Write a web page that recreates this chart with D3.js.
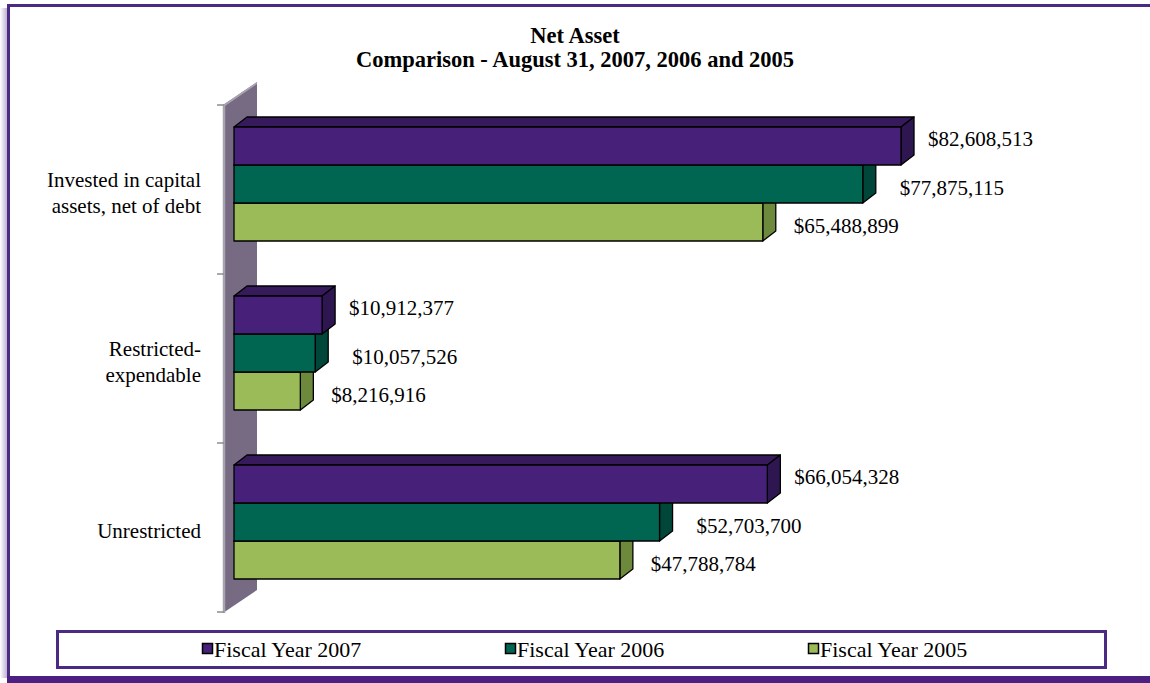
<!DOCTYPE html>
<html>
<head>
<meta charset="utf-8">
<script src="https://cdn.jsdelivr.net/npm/d3@7"></script>
<style>
  html, body { margin: 0; padding: 0; background: #fff; }
  svg { display: block; }
  text { font-family: "Liberation Serif", "Times New Roman", serif; fill: #000; }
</style>
</head>
<body>
<svg id="chart" width="1150" height="683"></svg>
<script>
// Net asset categories and values by fiscal year
const categories = [
  ["Invested in capital", "assets, net of debt"],
  ["Restricted-", "expendable"],
  ["Unrestricted"]
];
const seriesNames = ["Fiscal Year 2007", "Fiscal Year 2006", "Fiscal Year 2005"];
const fy2007 = [82608513, 10912377, 66054328];
const fy2006 = [77875115, 10057526, 52703700];
const fy2005 = [65488899, 8216916, 47788784];
const seriesValues = [fy2007, fy2006, fy2005];

const front = ["#47207a", "#006651", "#9bbb59"];
const topFace = ["#361a5c", "#004e3e", "#7d9a45"];
const sideFace = ["#2e1650", "#00473a", "#6d8a3c"];

const svg = d3.select("#chart");
const fmt = v => "$" + d3.format(",")(v);

// 3D depth of the bars
const dx = 13, dy = -10;

// Outer frame with a soft left shadow
const defs = svg.append("defs");
const grad = defs.append("linearGradient").attr("id", "shadow").attr("x1", 0).attr("x2", 1);
grad.append("stop").attr("offset", "0%").attr("stop-color", "#fff");
grad.append("stop").attr("offset", "100%").attr("stop-color", "#b6a6cc");
svg.append("rect").attr("x", 0).attr("y", 8).attr("width", 8).attr("height", 670).attr("fill", "url(#shadow)");
svg.append("path")
  .attr("d", "M1155,5.5 H8.5 V678")
  .attr("fill", "none").attr("stroke", "#4b2a84").attr("stroke-width", 3);
svg.append("rect").attr("x", 7).attr("y", 676).attr("width", 1150).attr("height", 7).attr("fill", "#4b2080");

// Title (two separate lines)
const titleLines = ["Net Asset", "Comparison - August 31, 2007, 2006 and 2005"];
svg.append("g").selectAll("text").data(titleLines).join("text")
  .attr("text-anchor", "middle")
  .attr("x", 575).attr("y", (d, i) => 43 + i * 24)
  .style("font-weight", "bold").style("font-size", "22.5px")
  .text(d => d);

// Scales
const y = d3.scaleBand().domain(d3.range(categories.length)).range([105, 612]);
const ySeries = d3.scaleBand().domain(d3.range(seriesNames.length)).range([22, 136]);
const x = d3.scaleLinear().domain([0, 90000000]).range([234, 960.7]);

// Back wall
svg.append("polygon")
  .attr("points", [[223, 105], [257, 82], [257, 590], [223, 613]].join(" "))
  .attr("fill", "#776b84");
svg.append("line").attr("x1", 224).attr("x2", 224).attr("y1", 105).attr("y2", 613)
  .attr("stroke", "#a9a3b0").attr("stroke-width", 2.5);
svg.append("polygon")
  .attr("points", [[223, 105], [257, 82], [257, 84], [225, 106]].join(" "))
  .attr("fill", "#a9a3b0");

// Category tick marks
svg.append("g").selectAll("line")
  .data(d3.range(categories.length + 1))
  .join("line")
  .attr("x1", 217).attr("x2", 224)
  .attr("y1", i => i < categories.length ? y(i) : y.range()[1])
  .attr("y2", i => i < categories.length ? y(i) : y.range()[1])
  .attr("stroke", "#8c8c8c").attr("stroke-width", 1.5);

// Bars, drawn from the bottom series up so each front face covers the top face below it
const bars = [];
categories.forEach((c, ci) => {
  for (let si = seriesNames.length - 1; si >= 0; si--) {
    bars.push({ ci, si, value: seriesValues[si][ci] });
  }
});

const barG = svg.append("g");
bars.forEach(b => {
  const y0 = y(b.ci) + ySeries(b.si);
  const y1 = y0 + ySeries.bandwidth();
  const x0 = x(0), x1 = x(b.value);
  const g = barG.append("g").attr("stroke", "#000").attr("stroke-width", 1.3).attr("stroke-linejoin", "round");
  g.append("polygon")
    .attr("points", [[x0, y0], [x0 + dx, y0 + dy], [x1 + dx, y0 + dy], [x1, y0]].join(" "))
    .attr("fill", topFace[b.si]);
  g.append("polygon")
    .attr("points", [[x1, y0], [x1 + dx, y0 + dy], [x1 + dx, y1 + dy], [x1, y1]].join(" "))
    .attr("fill", sideFace[b.si]);
  g.append("rect")
    .attr("x", x0).attr("y", y0).attr("width", x1 - x0).attr("height", y1 - y0)
    .attr("fill", front[b.si]);
});

// Value labels
const labelGap = [14, 24, 18];
const labelShift = [-7, 4, 4];
svg.append("g").selectAll("text")
  .data(bars)
  .join("text")
  .attr("x", d => x(d.value) + dx + labelGap[d.si])
  .attr("y", d => y(d.ci) + ySeries(d.si) + ySeries.bandwidth() / 2 + labelShift[d.si] + 7)
  .style("font-size", "21px")
  .text(d => fmt(d.value));

// Category labels
categories.forEach((lines, ci) => {
  const t = svg.append("text").attr("text-anchor", "end").style("font-size", "21px");
  const cy = y(ci) + y.bandwidth() / 2 + 3;
  const lh = 26;
  lines.forEach((ln, li) => {
    t.append("tspan").attr("x", 201)
      .attr("y", cy + 7 + (li - (lines.length - 1) / 2) * lh)
      .text(ln);
  });
});

// Legend
svg.append("rect").attr("x", 57.5).attr("y", 631.5).attr("width", 1048).attr("height", 36)
  .attr("fill", "#fff").attr("stroke", "#4b2a84").attr("stroke-width", 3);
const legendX = d3.scalePoint().domain(d3.range(seriesNames.length)).range([202, 808]);
const lg = svg.append("g").selectAll("g").data(seriesNames).join("g")
  .attr("transform", (d, i) => `translate(${legendX(i)},0)`);
lg.append("rect").attr("x", 0.5).attr("y", 643.5).attr("width", 10).attr("height", 10)
  .attr("fill", (d, i) => front[i]).attr("stroke", "#000").attr("stroke-width", 1.5);
lg.append("text").attr("x", 12).attr("y", 657).style("font-size", "22px").text(d => d);
</script>
</body>
</html>
